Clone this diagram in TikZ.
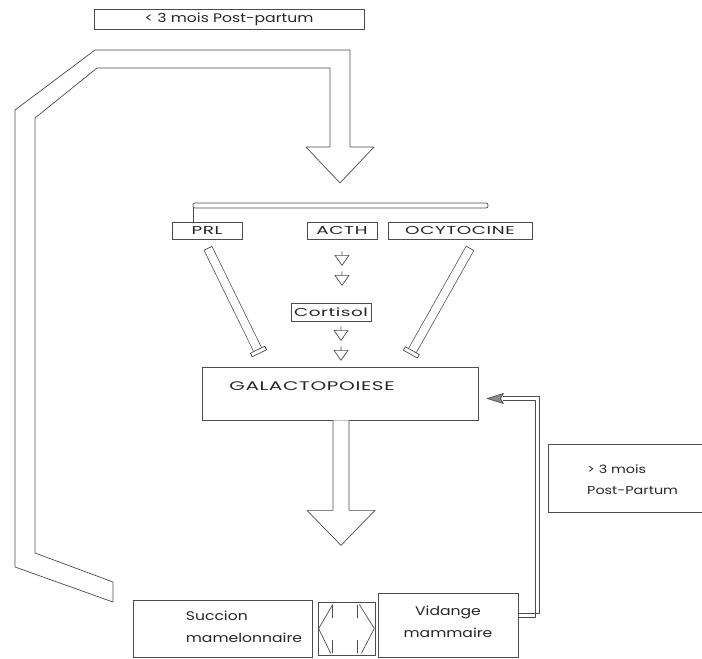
\documentclass[tikz,border=0pt]{standalone}
\usepackage{fontspec}
\setmainfont[FakeStretch=1.25]{Poppins}
\newfontfamily\largefont[FakeStretch=1.6, LetterSpace=5]{Poppins}
\usetikzlibrary{calc}
\usetikzlibrary{positioning}

\begin{document}
\begin{tikzpicture}[
      x=1pt, y=-1pt,
      box/.style ={rectangle, draw=black!70, line width=0.7pt, inner sep=0pt, text=black!85, font=\largefont\fontsize{11.5}{13}\selectfont},
      txt/.style ={inner sep=0pt, text=black!85, align=left, font=\fontsize{12.5}{22}\selectfont},
      line/.style ={draw=black!70, line width=0.7pt, line join=round},
      bar/.style ={draw=black!70, line width=0.7pt, double=white, double distance=8pt}
    ]
    \useasboundingbox (0,0) rectangle (702,659) ;

    \node [box, minimum width=270pt, minimum height=20pt, font=\fontsize{12.5}{14}\selectfont] (avant) at (229,19) {< 3 mois Post-partum} ;
    \node [box, minimum width=70pt, minimum height=17pt] (prl) at (207,230.5) {PRL\hspace{5pt}} ;
    \node [box, minimum width=70pt, minimum height=17pt] (acth) at (342,230.5) {ACTH} ;
    \node [box, minimum width=144pt, minimum height=17pt] (ocy) at (460,230.5) {OCYTOCINE} ;
    \node [box, minimum width=80pt, minimum height=18pt] (cortisol) at (331,312) {Cortisol} ;
    \node [box, minimum width=276pt, minimum height=53pt] (galacto) at (340,393.5) {} ;
    \node [txt, font=\largefont\fontsize{12.5}{14}\selectfont] (galactotxt) at (312,386) {GALACTOPOIESE} ;
    \node [box, minimum width=179pt, minimum height=57pt] (succion) at (222.5,628.5) {} ;
    \node [txt, anchor=west] (succiontxt) at ($(succion.west)+(53,-2)$) {Succion\\mamelonnaire} ;
    \node [box, minimum width=57pt, minimum height=53pt] (echange) at (346.5,628.5) {} ;
    \node [box, minimum width=140pt, minimum height=64pt] (vidange) at (448,625) {} ;
    \node [txt, align=center] (vidangetxt) at ($(vidange.center)+(0,-3)$) {Vidange\\mammaire} ;
    \node [box, minimum width=160pt, minimum height=68pt, anchor=west] (apres) at (548,478) {} ;
    \node [txt, anchor=west, font=\fontsize{11.5}{21}\selectfont] (aprestxt) at ($(apres.west)+(39,2)$) {> 3 mois\\Post-Partum} ;

    \draw [line, rounded corners=2pt] (193,203) rectangle (488,208) ;
    \draw [line] (193,208) -- ($(prl.north)+(-14,0)$) ;

    \coordinate (pointe) at (340,183) ;
    \draw [line] (113,602) -- (15,567) -- (15,110) -- (95,50) -- (350,50) -- (350,147) -- (374,147) -- (pointe) -- (306,147) -- (330,147) -- (330,68) -- (97,68) -- (35,118) -- (35,553) -- (113,582) -- cycle ;

    \coordinate (prlA) at ($(prl.south)+(1,9)$) ;
    \coordinate (prlB) at ($(galacto.north west)+(56,-17)$) ;
    \coordinate (ocyA) at ($(ocy.south)+(10,9)$) ;
    \coordinate (ocyB) at ($(galacto.north east)+(-66,-16)$) ;
    \foreach \a/\b in {prlA/prlB, ocyA/ocyB} {
      \draw [bar] (\a) -- (\b) ;
      \draw [line] ($(\a)!4.35pt!90:(\b)$) -- ($(\a)!4.35pt!-90:(\b)$) ;
      \coordinate (bout) at ($(\b)!-4pt!(\a)$) ;
      \draw [line, fill=white] ($(\b)!8pt!90:(\a)$) -- ($(\b)!8pt!-90:(\a)$) -- ($(bout)!8pt!-90:(\a)$) -- ($(bout)!8pt!90:(\a)$) -- cycle ;
    }

    \foreach \d in {16,36}
      \draw [line] ($(acth.south)+(-7,\d)$) -- ++(14,0) -- ++(-7,10) -- cycle ($(acth.south)+(0,\d)$) -- ++(0,-4) ;
    \foreach \d in {9,29}
      \draw [line] ($(cortisol.south)+(3,\d)$) -- ++(14,0) -- ++(-7,10) -- cycle ($(cortisol.south)+(10,\d)$) -- ++(0,-4) ;

    \draw [line, fill=white] ($(galacto.south)+(-7,0)$) -- ++(0,90) -- ++(-26,0) -- ++(34,35) -- ++(34,-35) -- ++(-26,0) -- ++(0,-90) ;

    \coordinate (retour) at ($(galacto.east)+(25,5)$) ;
    \draw [line] ($(vidange.east)+(0,-12)$) -- ++(21,0) |- ($(retour)+(0,-2)$) ;
    \draw [line] ($(vidange.east)+(0,-8)$) -- ++(17,0) |- ($(retour)+(0,2)$) ;
    \draw [line, fill=black!45] ($(galacto.east)+(9,5)$) -- ($(retour)+(0,-5)$) -- ($(retour)+(-3,0)$) -- ($(retour)+(0,5)$) -- cycle ;

    \draw [line] ($(echange.north west)+(15,3)$) -- ($(echange.west)+(1,0)$) -- ($(echange.south west)+(13,-2)$) ;
    \draw [line] ($(echange.north east)+(-16,3)$) -- ($(echange.east)+(-1,0)$) -- ($(echange.south east)+(-14,-2)$) ;
    \foreach \dx/\dy in {15/3, 40/3}
      \draw [line] ($(echange.north west)+(\dx,\dy)$) -- ++(0,13) ($(echange.south west)+(\dx,-2)$) -- ++(0,-13) ;
\end{tikzpicture}
\end{document}
